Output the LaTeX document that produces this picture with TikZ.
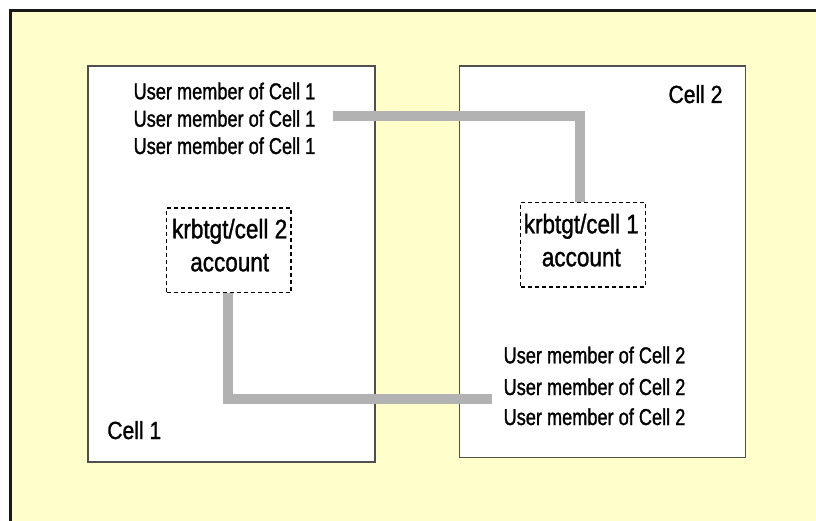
\documentclass[tikz,border=0pt]{standalone}
\usepackage{fontspec}
\setmainfont{Liberation Sans}[FakeStretch=0.85,FakeBold=1.2]
\newfontfamily\userfont{Liberation Sans}[FakeStretch=0.79,FakeBold=1.2]
\newfontfamily\acctfont{Liberation Sans}[FakeStretch=0.84,FakeBold=1.2]
\definecolor{bgyellow}{HTML}{FFFFCC}
\definecolor{cellborder}{HTML}{505050}
\definecolor{linkgray}{HTML}{B2B2B2}
\begin{document}
\begin{tikzpicture}[x=1pt,y=-1pt,
  cellbox/.style={draw=cellborder, line width=1.5pt, fill=white, inner sep=0pt, minimum width=#1},
  acctbox/.style={draw=black, line width=1.3pt, dash pattern=on 4pt off 3pt, fill=white, inner sep=0pt, minimum width=124.5pt, minimum height=84.5pt},
  usertxt/.style={anchor=base, inner sep=0pt, font=\userfont\fontsize{23}{26}\selectfont},
  accttxt/.style={anchor=base, inner sep=0pt, font=\acctfont\fontsize{26.8}{30}\selectfont},
  celltxt/.style={anchor=base, inner sep=0pt, font=\fontsize{24.8}{28}\selectfont},
  link/.style={draw=linkgray, line width=10pt, line join=miter}
]
\useasboundingbox (0,0) rectangle (816,521);
\clip (0,0) rectangle (816,521);
\fill[white] (0,0) rectangle (816,521);
\fill[bgyellow] (10.5,10.5) rectangle (830,540);
\draw[line width=2.5pt, draw=black!90] (10.5,540) -- (10.5,10.5) -- (830,10.5);

% cells
\node[cellbox=287pt, minimum height=396pt] (cell1) at (231.5,264) {};
\node[cellbox=286.4pt, minimum height=391.7pt] (cell2) at (602.5,261.85) {};

% account boxes
\node[acctbox] (k1) at (228.8,250.3) {};
\node[acctbox] (k2) at (583,244.7) {};

% cell 1 texts
\node[usertxt] (u1a) at (224.5,99.3) {User member of Cell 1};
\node[usertxt] (u1b) at (224.5,126.7) {User member of Cell 1};
\node[usertxt] (u1c) at (224.5,154) {User member of Cell 1};
\node[accttxt] (k1a) at (229.7,238.3) {krbtgt/cell 2};
\node[accttxt] (k1b) at (229.7,271.3) {account};
\node[celltxt] (l1) at (134.3,439) {Cell 1};

% cell 2 texts
\node[celltxt] (l2) at (695.5,103) {Cell 2};
\node[accttxt] (k2a) at (581.3,233.3) {krbtgt/cell 1};
\node[accttxt] (k2b) at (581.3,266.3) {account};
\node[usertxt] (u2a) at (594.5,363.3) {User member of Cell 2};
\node[usertxt] (u2b) at (594.5,395) {User member of Cell 2};
\node[usertxt] (u2c) at (594.5,425) {User member of Cell 2};

% connectors
\coordinate (c1s) at (333,116);
\coordinate (c2e) at (491.7,399);
\draw[link] (c1s) -| ([xshift=-3pt]k2.north);
\draw[link] ([xshift=-1pt]k1.south) |- (c2e);
\end{tikzpicture}
\end{document}
